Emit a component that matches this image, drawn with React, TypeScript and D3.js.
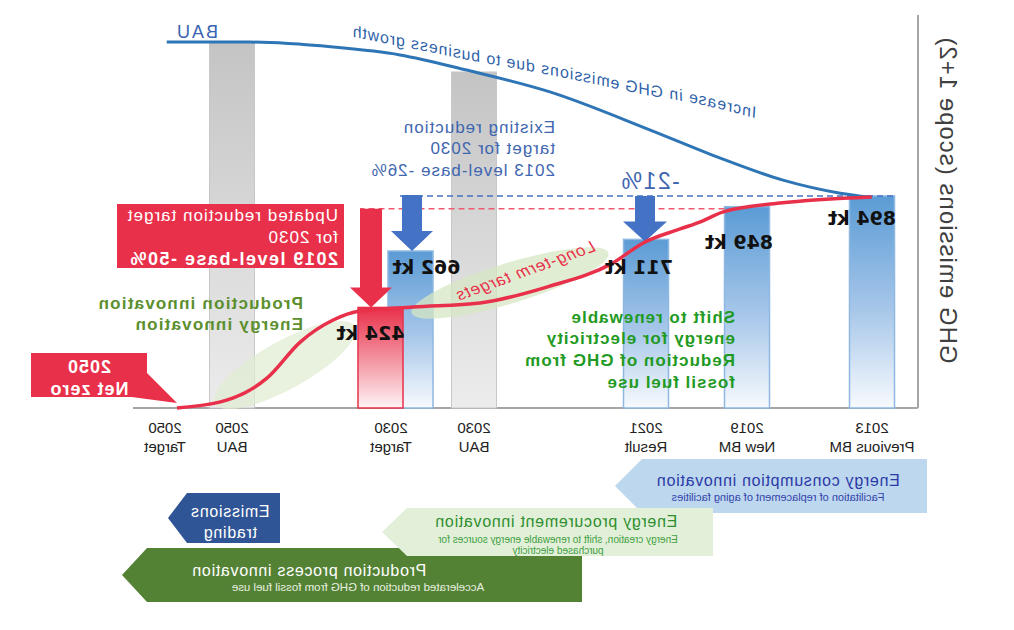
import React from "react";
import * as d3 from "d3";

// ---------------- data ----------------
const categories = ["2013 Previous BM", "2019 New BM", "2021 Result", "2030 BAU", "2030 Target", "2050 BAU", "2050 Target"];
const tickYears = ["2013", "2019", "2021", "2030", "2030", "2050", "2050"];
const tickNotes = ["Previous BM", "New BM", "Result", "BAU", "Target", "BAU", "Target"];

const emissionCats = ["2013 Previous BM", "2019 New BM", "2021 Result", "2030 Target"];
const emissionValues = [894, 849, 711, 662];
const emissionLabels = ["894 kt", "849 kt", "711 kt", "662 kt"];

const updatedTargetCat = "2030 Target";
const updatedTargetValue = 424;
const updatedTargetLabel = "424 kt";

const bauCats = ["2030 BAU", "2050 BAU"];
const bauValues = [1417, 1539];

// curves: position along the axis (0-100) and emissions (kt)
const bauPos = [6.1, 9.9, 17.2, 25.6, 34.1, 46.9, 57.5, 66.0, 74.5, 85.1, 95.7];
const bauLine = [889, 906, 961, 1059, 1172, 1333, 1425, 1489, 1522, 1543, 1543];
const targetPos = [5.9, 17.6, 24.8, 27.8, 30.3, 35.0, 38.9, 47.3, 55.8, 64.3, 71.1, 74.5, 78.7, 82.9, 87.3, 94.4];
const targetLine = [890, 864, 827, 784, 755, 696, 611, 510, 443, 426, 409, 371, 278, 127, 42, 0];
const bauNotePos = [20.8, 28, 35.4, 42, 50, 57, 65, 72.4];
const bauNoteLine = [1223, 1282, 1325, 1372, 1424, 1466, 1520, 1568];

// ---------------- layout ----------------
const W = 1014;
const H = 630;
const SANS = "'Liberation Sans', Arial, sans-serif";
const BOLD = "'DejaVu Sans', Verdana, sans-serif";
const catX = [142, 267, 368, 540, 623, 782, 849];
const barOffset: Record<string, number> = { "2030 Target": -19.5 };
const labelOffsets = [[10, 22], [8, 35], [7, 28], [-16, 16]];
const BLUE = "#2e75b6";
const RED = "#e8304a";
const ARROW_BLUE = "#4472c4";

function arrowPath(cx: number, y0: number, y1: number, shaft: number, head: number, headH: number) {
  const s = shaft / 2, h = head / 2, yh = y1 - headH;
  return `M${cx - s},${y0}L${cx + s},${y0}L${cx + s},${yh}L${cx + h},${yh}L${cx},${y1}L${cx - h},${yh}L${cx - s},${yh}Z`;
}
function pentagon(x0: number, x1: number, tip: number, y0: number, y1: number) {
  return `${x0},${y0} ${x1},${y0} ${tip},${(y0 + y1) / 2} ${x1},${y1} ${x0},${y1}`;
}

export default function App() {
  const x = d3.scaleOrdinal<string, number>().domain(categories).range(catX);
  const t = d3.scaleLinear().domain([0, 100]).range([96, 881]);
  const y = d3.scaleLinear().domain([0, 1000]).range([408, 408 - 237.14]);
  const barW = 45;

  const line = d3
    .line<[number, number]>()
    .x((d) => t(d[0]))
    .y((d) => y(d[1]))
    .curve(d3.curveMonotoneX);
  const noteLine = d3
    .line<[number, number]>()
    .x((d) => t(d[0]))
    .y((d) => y(d[1]))
    .curve(d3.curveCatmullRom);

  const bauPath = line(bauPos.map((p, i) => [p, bauLine[i]]) as [number, number][]) || "";
  const targetPath = line(targetPos.map((p, i) => [p, targetLine[i]]) as [number, number][]) || "";
  const notePath = noteLine(bauNotePos.map((p, i) => [p, bauNoteLine[i]]) as [number, number][]) || "";

  const tgtX = x(updatedTargetCat);
  const redBarX = tgtX + 10.5;
  const arrow1X = tgtX - 21;
  const arrow2X = x("2021 Result") + 1;
  const redArrowX = tgtX + 20;

  return (
    <svg width={W} height={H} style={{ position: "absolute", left: 0, top: 0, background: "#fff" }}>
      <defs>
        <linearGradient id="gBlue" x1="0" y1="0" x2="0" y2="1">
          <stop offset="0%" stopColor="#5b9bd5" />
          <stop offset="55%" stopColor="#a9c8ea" />
          <stop offset="100%" stopColor="#f7fafd" />
        </linearGradient>
        <linearGradient id="gRed" x1="0" y1="0" x2="0" y2="1">
          <stop offset="0%" stopColor="#e8304a" />
          <stop offset="55%" stopColor="#f39aa6" />
          <stop offset="100%" stopColor="#fff3f5" />
        </linearGradient>
        <linearGradient id="gGray" x1="0" y1="0" x2="0" y2="1">
          <stop offset="0%" stopColor="#c4c4c4" />
          <stop offset="100%" stopColor="#ececec" />
        </linearGradient>
        <path id="bauNote" d={notePath} />
      </defs>
      <rect width={W} height={H} fill="#fff" />
      <g transform={`translate(${W},0) scale(-1,1)`}>
        {/* axes */}
        <line x1={t(0)} x2={t(100)} y1={y(0)} y2={y(0)} stroke="#a6a6a6" strokeWidth={2} />
        <line x1={t(0)} x2={t(0)} y1={15} y2={y(0)} stroke="#a6a6a6" strokeWidth={2} />
        <text
          transform={`translate(74,200) rotate(-90)`}
          textAnchor="middle"
          fontFamily={SANS}
          fontSize={24}
          letterSpacing={1}
          fill="#404040"
        >
          GHG emissions (scope 1+2)
        </text>

        {/* BAU bars */}
        {bauCats.map((c, i) => (
          <rect
            key={c}
            x={x(c) - barW / 2}
            y={y(bauValues[i])}
            width={barW}
            height={y(0) - y(bauValues[i])}
            fill="url(#gGray)"
            stroke="#c8c8c8"
            strokeWidth={1}
          />
        ))}

        {/* emissions bars */}
        {emissionCats.map((c, i) => {
          const cx = x(c) + (barOffset[c] || 0);
          return (
            <rect
              key={c}
              x={cx - barW / 2}
              y={y(emissionValues[i])}
              width={barW}
              height={y(0) - y(emissionValues[i])}
              fill="url(#gBlue)"
              stroke="#8fb8e3"
              strokeWidth={1.5}
            />
          );
        })}
        <rect
          x={redBarX - barW / 2}
          y={y(updatedTargetValue)}
          width={barW}
          height={y(0) - y(updatedTargetValue)}
          fill="url(#gRed)"
          stroke={RED}
          strokeWidth={1.5}
        />

        {/* green ellipses */}
        <ellipse cx={504} cy={283} rx={103} ry={20} transform="rotate(17 504 283)" fill="#d7e7c3" opacity={0.75} />
        <ellipse cx={729} cy={365} rx={80} ry={24} transform="rotate(29 729 365)" fill="#dfecd0" opacity={0.7} />

        {/* dashed reference lines */}
        <line x1={x("2013 Previous BM") - 21} x2={arrow1X + 12} y1={y(894)} y2={y(894)} stroke={ARROW_BLUE} strokeWidth={1.5} strokeDasharray="6,4" />
        <line x1={x("2019 New BM") + barW / 2} x2={redArrowX + 11} y1={y(849) + 2} y2={y(849) + 2} stroke="#ef5a70" strokeWidth={1.5} strokeDasharray="6,4" />

        {/* arrows */}
        <path d={arrowPath(arrow1X, y(894) - 1, y(662), 20, 42, 20)} fill={ARROW_BLUE} />
        <path d={arrowPath(arrow2X, y(894), y(711) + 2, 20, 44, 20)} fill={ARROW_BLUE} />
        <path d={arrowPath(redArrowX, y(849) + 2, y(424), 22, 42, 20)} fill={RED} />

        {/* curves */}
        <path d={bauPath} fill="none" stroke={BLUE} strokeWidth={3} />
        <path d={targetPath} fill="none" stroke={RED} strokeWidth={3.5} />

        {/* value labels */}
        {emissionCats.map((c, i) => {
          const cx = x(c) + (barOffset[c] || 0);
          return (
            <text
              key={c}
              x={cx + labelOffsets[i][0]}
              y={y(emissionValues[i]) + labelOffsets[i][1]}
              dy="0.36em"
              textAnchor="middle"
              fontFamily={BOLD}
              fontWeight="bold"
              fontSize={19}
              fill="#111"
            >
              {emissionLabels[i]}
            </text>
          );
        })}
        <text x={redBarX + 10} y={y(updatedTargetValue) + 26} dy="0.36em" textAnchor="middle" fontFamily={BOLD} fontWeight="bold" fontSize={19} fill="#111">
          {updatedTargetLabel}
        </text>

        {/* tick labels */}
        {categories.map((c, i) => (
          <g key={c} fontFamily={SANS} fontSize={15} fill="#222" textAnchor="middle">
            <text x={x(c)} y={433}>{tickYears[i]}</text>
            <text x={x(c)} y={452}>{tickNotes[i]}</text>
          </g>
        ))}

        {/* BAU annotations */}
        <text x={796} y={38} fontFamily={SANS} fontSize={18} letterSpacing={2} fill="#3a63b0">BAU</text>
        <text fontFamily={SANS} fontSize={16} fontStyle="italic" letterSpacing={1} fill="#2e5fa8">
          <textPath href="#bauNote">Increase in GHG emissions due to business growth</textPath>
        </text>
        <text
          transform="translate(487,276) rotate(20)"
          textAnchor="middle"
          fontFamily={SANS}
          fontSize={16.5}
          fontStyle="italic"
          letterSpacing={1}
          fill={RED}
        >
          Long-term targets
        </text>

        {/* existing target text */}
        <g fontFamily={SANS} fontSize={17} letterSpacing={1} fill="#3f66b0">
          <text x={459} y={133}>Existing reduction</text>
          <text x={459} y={154}>target for 2030</text>
          <text x={459} y={176}>2013 level-base -26%</text>
        </g>
        <text x={364} y={189} textAnchor="middle" fontFamily={SANS} fontSize={23} letterSpacing={1.5} fill="#3f66b0">-21%</text>

        {/* updated target box */}
        <rect x={670} y={204} width={227} height={64} fill={RED} />
        <g fontFamily={SANS} fontSize={17} letterSpacing={1} fill="#fff">
          <text x={676} y={221}>Updated reduction target</text>
          <text x={676} y={243}>for 2030</text>
          <text x={676} y={265} fontWeight="bold" fontSize={18} letterSpacing={1.5}>2019 level-base -50%</text>
        </g>

        {/* green notes */}
        <g fontFamily={SANS} fontSize={17} fontWeight="bold" letterSpacing={1.2} fill="#5b8f2e">
          <text x={711} y={309}>Production innovation</text>
          <text x={711} y={330}>Energy innovation</text>
        </g>
        <g fontFamily={SANS} fontSize={17} fontWeight="bold" letterSpacing={1} fill="#1f9a22">
          <text x={279} y={323}>Shift to renewable</text>
          <text x={279} y={344}>energy for electricity</text>
          <text x={279} y={366}>Reduction of GHG from</text>
          <text x={279} y={388}>fossil fuel use</text>
        </g>

        {/* net zero callout */}
        <rect x={867} y={353} width={116} height={44} fill={RED} />
        <polygon points="868,372 837,403 890,396" fill={RED} />
        <g fontFamily={SANS} fontSize={18} fontWeight="bold" letterSpacing={1} fill="#fff" textAnchor="middle">
          <text x={925} y={373}>2050</text>
          <text x={925} y={395}>Net zero</text>
        </g>

        {/* bottom arrows */}
        <polygon points={pentagon(87, 372, 399, 459, 513)} fill="#bdd7ee" />
        <text x={236} y={486} textAnchor="middle" fontFamily={SANS} fontSize={16} letterSpacing={0.7} fill="#2b3aa6">Energy consumption innovation</text>
        <text x={236} y={501} textAnchor="middle" fontFamily={SANS} fontSize={11} fill="#3344aa">Facilitation of replacement of aging facilities</text>

        <polygon points={pentagon(432, 867, 892, 548, 602)} fill="#548235" />
        <text x={705} y={576} textAnchor="middle" fontFamily={SANS} fontSize={16} letterSpacing={0.7} fill="#fff">Production process innovation</text>
        <text x={656} y={591} textAnchor="middle" fontFamily={SANS} fontSize={11.5} fill="#e8f0e0">Accelerated reduction of GHG from fossil fuel use</text>

        <polygon points={pentagon(301, 607, 632, 508, 556)} fill="#e2efd9" />
        <text x={458} y={527} textAnchor="middle" fontFamily={SANS} fontSize={16} letterSpacing={0.7} fill="#2f8f2f">Energy procurement innovation</text>
        <text x={456} y={543} textAnchor="middle" fontFamily={SANS} fontSize={10} fill="#3f9f3f">Energy creation, shift to renewable energy sources for</text>
        <text x={456} y={554} textAnchor="middle" fontFamily={SANS} fontSize={10} fill="#3f9f3f">purchased electricity</text>

        <polygon points={pentagon(734, 827, 846, 493, 543)} fill="#2f5597" />
        <g fontFamily={SANS} fontSize={16} letterSpacing={0.7} fill="#fff" textAnchor="middle">
          <text x={784} y={517}>Emissions</text>
          <text x={784} y={538}>trading</text>
        </g>
      </g>
    </svg>
  );
}
